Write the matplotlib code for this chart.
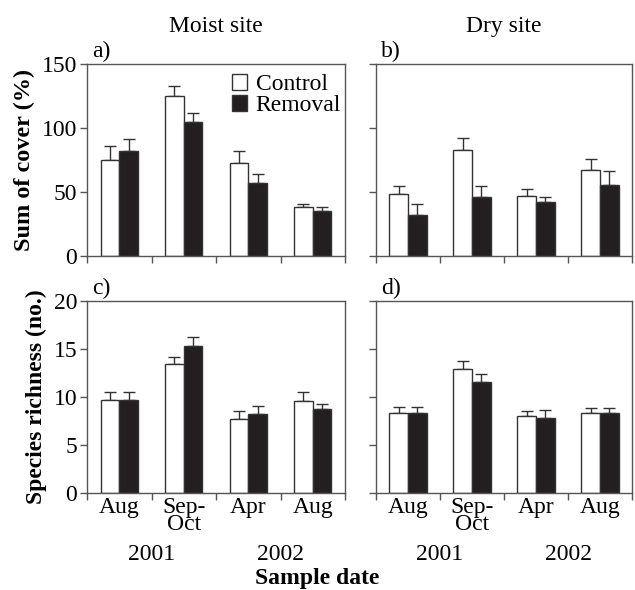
import numpy as np
import matplotlib.pyplot as plt

plt.rcParams['font.family'] = ['Liberation Serif', 'DejaVu Serif']

months = ["Aug", "Sep-\nOct", "Apr", "Aug"]
years = ["2001", "2002"]

# cover (%) - moist site
moist_cover_ctrl = [74.7, 125.3, 72.7, 38.0]
moist_cover_ctrl_se = [11.5, 7.2, 9.6, 2.4]
moist_cover_rem = [82.0, 104.7, 57.0, 34.9]
moist_cover_rem_se = [9.7, 7.3, 7.3, 3.4]

# cover (%) - dry site
dry_cover_ctrl = [48.2, 83.0, 46.9, 66.9]
dry_cover_ctrl_se = [6.2, 9.4, 5.7, 8.6]
dry_cover_rem = [32.3, 45.8, 42.2, 55.5]
dry_cover_rem_se = [8.1, 8.6, 4.2, 10.6]

# species richness - moist site
moist_rich_ctrl = [9.64, 13.4, 7.72, 9.6]
moist_rich_ctrl_se = [0.86, 0.8, 0.78, 0.88]
moist_rich_rem = [9.64, 15.3, 8.25, 8.74]
moist_rich_rem_se = [0.86, 0.9, 0.8, 0.52]

# species richness - dry site
dry_rich_ctrl = [8.29, 12.88, 7.97, 8.32]
dry_rich_ctrl_se = [0.66, 0.82, 0.53, 0.49]
dry_rich_rem = [8.29, 11.59, 7.8, 8.32]
dry_rich_rem_se = [0.66, 0.77, 0.83, 0.49]

FS = 17
edge = '#333333'
spine_col = '#555555'
bw = 0.29

fig = plt.figure(figsize=(6.35, 5.9), dpi=100)
boxes = {
    'a': [87/635, 1-256/590, 258/635, 192/590],
    'b': [376/635, 1-256/590, 256/635, 192/590],
    'c': [87/635, 1-493/590, 258/635, 192/590],
    'd': [376/635, 1-493/590, 256/635, 192/590],
}

panels = [
    ('a', moist_cover_ctrl, moist_cover_ctrl_se, moist_cover_rem, moist_cover_rem_se, 150, [0, 50, 100, 150]),
    ('b', dry_cover_ctrl, dry_cover_ctrl_se, dry_cover_rem, dry_cover_rem_se, 150, [0, 50, 100, 150]),
    ('c', moist_rich_ctrl, moist_rich_ctrl_se, moist_rich_rem, moist_rich_rem_se, 20, [0, 5, 10, 15, 20]),
    ('d', dry_rich_ctrl, dry_rich_ctrl_se, dry_rich_rem, dry_rich_rem_se, 20, [0, 5, 10, 15, 20]),
]

axes = {}
for key, ctrl, ctrl_se, rem, rem_se, ymax, yt in panels:
    ax = fig.add_axes(boxes[key])
    axes[key] = ax
    x = np.arange(len(ctrl)) + 0.5
    xc = x - bw/2
    xr = x + bw/2
    ax.bar(xc, ctrl, bw, color='white', edgecolor=edge, linewidth=1, label='Control', zorder=2)
    ax.bar(xr, rem, bw, color='#231f20', edgecolor=edge, linewidth=1, label='Removal', zorder=2)
    ax.errorbar(xc, ctrl, yerr=[np.zeros(4), ctrl_se], fmt='none', ecolor=edge,
                elinewidth=1, capsize=4, capthick=1, zorder=1)
    ax.errorbar(xr, rem, yerr=[np.zeros(4), rem_se], fmt='none', ecolor=edge,
                elinewidth=1, capsize=4, capthick=1, zorder=1)
    ax.set_xlim(0, 4)
    ax.set_ylim(0, ymax)
    ax.set_yticks(yt)
    ax.set_xticks([0, 1, 2, 3, 4])
    ax.set_xticklabels([])
    ax.tick_params(axis='both', direction='out', length=5, width=1, color=spine_col,
                   labelsize=FS, pad=2)
    for s in ax.spines.values():
        s.set_color(spine_col)
        s.set_linewidth(1)
    if key in ('b', 'd'):
        ax.set_yticklabels([])
    if key in ('c', 'd'):
        ax.set_xticks(x, minor=True)
        ax.set_xticklabels(months, minor=True, fontsize=FS, linespacing=0.75)
        ax.tick_params(axis='x', which='minor', length=0, pad=3)
        for yr, xp in zip(years, [1, 3]):
            ax.text(xp, -0.265, yr, transform=ax.get_xaxis_transform(),
                    ha='center', va='top', fontsize=FS)
    ax.text(0.02, 1.01, key + ')', transform=ax.transAxes, ha='left', va='bottom', fontsize=FS)

axes['a'].set_ylabel('Sum of cover (%)', fontsize=FS + 0.5, fontweight='bold', labelpad=5)
axes['c'].set_ylabel('Species richness (no.)', fontsize=FS, fontweight='bold', labelpad=5)
axes['a'].set_title('Moist site', fontsize=FS, pad=23)
axes['b'].set_title('Dry site', fontsize=FS, pad=23)

leg = axes['a'].legend(loc='upper right', fontsize=FS, frameon=False, handlelength=0.65,
                       handleheight=0.65, handletextpad=0.35, labelspacing=0.0,
                       borderaxespad=0.1, bbox_to_anchor=(1.03, 1.01))

fig.text(0.5, 6/590, 'Sample date', ha='center', va='baseline', fontsize=FS, fontweight='bold')

fig.savefig('out.png', dpi=100)
